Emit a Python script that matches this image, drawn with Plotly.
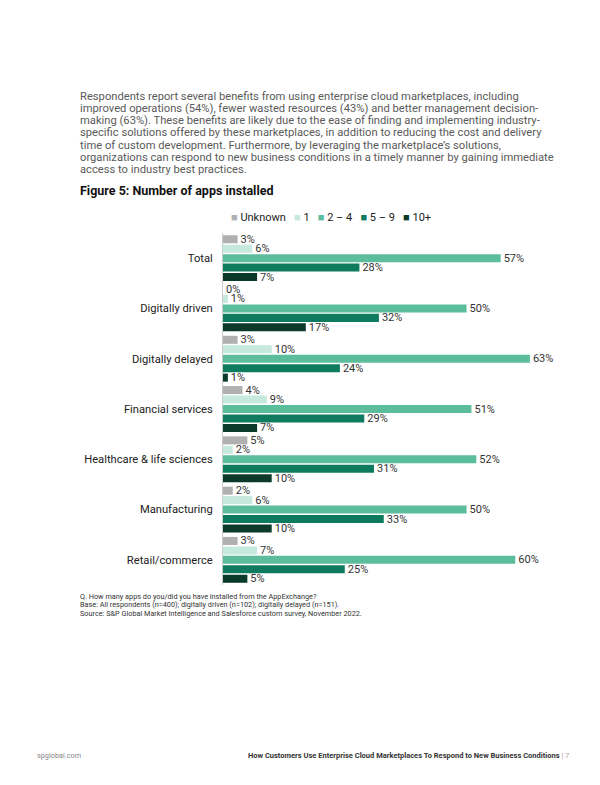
import plotly.graph_objects as go

categories = ["Total", "Digitally driven", "Digitally delayed", "Financial services",
              "Healthcare & life sciences", "Manufacturing", "Retail/commerce"]
series_names = ["Unknown", "1", "2 – 4", "5 – 9", "10+"]
unknown = [3, 0, 3, 4, 5, 2, 3]
one = [6, 1, 10, 9, 2, 6, 7]
two_four = [57, 50, 63, 51, 52, 50, 60]
five_nine = [28, 32, 24, 29, 31, 33, 25]
ten_plus = [7, 17, 1, 7, 10, 10, 5]
series_values = [unknown, one, two_four, five_nine, ten_plus]
colors = ["#b0b0b0", "#c6e9dd", "#5cbd9c", "#0f7b5e", "#0b3a2b"]

paragraph = [
    "Respondents report several benefits from using enterprise cloud marketplaces, including",
    "improved operations (54%), fewer wasted resources (43%) and better management decision-",
    "making (63%). These benefits are likely due to the ease of finding and implementing industry-",
    "specific solutions offered by these marketplaces, in addition to reducing the cost and delivery",
    "time of custom development. Furthermore, by leveraging the marketplace’s solutions,",
    "organizations can respond to new business conditions in a timely manner by gaining immediate",
    "access to industry best practices.",
]
title = "Figure 5: Number of apps installed"
footnotes = [
    "Q. How many apps do you/did you have installed from the AppExchange?",
    "Base: All respondents (n=400); digitally driven (n=102); digitally delayed (n=151).",
    "Source: S&P Global Market Intelligence and Salesforce custom survey, November 2022.",
]
footer_left = "spglobal.com"
footer_right = "How Customers Use Enterprise Cloud Marketplaces To Respond to New Business Conditions"
page_no = "7"

FONT = "Roboto"
OFF = 8  # page body margin
W, H = 600 - OFF, 785 - OFF
PLOT_L, PLOT_R, PLOT_T, PLOT_B = 223, 564.5, 233, 585
ML, MR, MT, MB = PLOT_L - OFF, 600 - PLOT_R, PLOT_T - OFF, 785 - PLOT_B
PW = PLOT_R - PLOT_L
PH = PLOT_B - PLOT_T


def px(x):
    return (x - PLOT_L) / PW


def py(y):
    return (PLOT_B - y) / PH


fig = go.Figure()
for name, vals, col in zip(series_names, series_values, colors):
    fig.add_trace(go.Bar(
        y=categories, x=vals, name=name, orientation="h",
        marker=dict(color=col, line=dict(width=0)),
        text=[f"{v}%" for v in vals], textposition="outside",
        constraintext="none",
        textfont=dict(family=FONT, size=11, color="#333333"),
        cliponaxis=False, showlegend=False,
    ))

ann = []
for i, line in enumerate(paragraph):
    ann.append(dict(text=line, x=px(78), y=py(96 + i * 12.3), xanchor="left", yanchor="middle",
                    font=dict(family=FONT, size=11.2, color="#5a5a5a")))
ann.append(dict(text=f"<b>{title}</b>", x=px(78), y=py(190), xanchor="left", yanchor="middle",
                font=dict(family=FONT, size=12.5, color="#111111")))

legend_html = "   ".join(
    f"<span style='color:{c}'>■</span> {n}" for n, c in zip(series_names, colors))
ann.append(dict(text=legend_html, x=px(331.5), y=py(217), xanchor="center", yanchor="middle",
                font=dict(family=FONT, size=11, color="#222222")))

for i, line in enumerate(footnotes):
    ann.append(dict(text=line, x=px(78), y=py(596 + i * 8.6), xanchor="left", yanchor="middle",
                    font=dict(family=FONT, size=7.3, color="#333333")))
ann.append(dict(text=footer_left, x=px(35), y=py(755), xanchor="left", yanchor="middle",
                font=dict(family=FONT, size=7.3, color="#888888")))
ann.append(dict(text=f"<b>{footer_right}</b> <span style='color:#aaaaaa'>| {page_no}</span>",
                x=px(572), y=py(755), xanchor="right", yanchor="middle",
                font=dict(family=FONT, size=7.5, color="#333333")))

for a in ann:
    a.update(xref="paper", yref="paper", showarrow=False)

fig.update_layout(
    width=W, height=H, margin=dict(l=ML, r=MR, t=MT, b=MB),
    paper_bgcolor="white", plot_bgcolor="white",
    barmode="group", bargap=0.06, bargroupgap=0.15,
    showlegend=False, annotations=ann,
    xaxis=dict(range=[0, 70], visible=False, fixedrange=True),
    yaxis=dict(autorange="reversed", showline=True, linecolor="#cccccc", linewidth=1,
               showgrid=False, zeroline=False, ticks="", ticklabelstandoff=7,
               tickfont=dict(family=FONT, size=11.2, color="#222222")),
)
fig.write_html("out.html")
